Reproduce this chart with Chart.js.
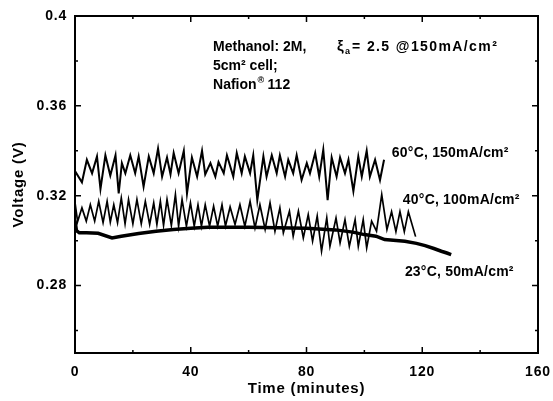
<!DOCTYPE html>
<html lang="en">
<head>
<meta charset="UTF-8">
<title>Cell voltage vs time</title>
<script src="https://cdn.jsdelivr.net/npm/chart.js"></script>
<style>
  html, body { margin: 0; padding: 0; background: #fff; }
  #wrap { width: 553px; height: 401px; }
</style>
</head>
<body>
<div id="wrap"><canvas id="voltChart" width="553" height="401"></canvas></div>
<script>
// values (time in minutes, voltage in V)
const t60 = [0, 2.4, 4.1, 5.9, 7.6, 8.8, 10.5, 12.2, 14.0, 15.1,
             16.2, 17.4, 19.1, 20.8, 22.0, 23.7, 25.5, 27.2, 28.7, 30.1,
             31.8, 33.0, 34.1, 35.8, 37.6, 38.7, 40.4, 42.2, 43.9, 45.0,
             46.8, 48.5, 49.6, 51.4, 52.5, 54.7, 55.9, 57.6, 58.7, 60.5,
             61.6, 63.0, 65.1, 66.2, 68.0, 69.7, 70.8, 72.6, 73.7, 75.4,
             76.6, 78.3, 80.1, 81.2, 83.0, 84.4, 85.8, 87.3, 88.7, 90.4,
             91.6, 93.3, 94.5, 96.2, 97.9, 99.1, 100.8, 101.9, 103.7, 105.4,
             106.8];
const v60 = [0.331, 0.326, 0.336, 0.330, 0.3375, 0.323, 0.338, 0.329, 0.338, 0.321,
             0.3345, 0.330, 0.338, 0.330, 0.3375, 0.324, 0.3375, 0.330, 0.341, 0.3285,
             0.337, 0.3295, 0.339, 0.330, 0.340, 0.321, 0.337, 0.3285, 0.340, 0.3295,
             0.3345, 0.3285, 0.335, 0.330, 0.338, 0.3285, 0.339, 0.330, 0.3375, 0.330,
             0.338, 0.318, 0.3375, 0.3285, 0.338, 0.330, 0.338, 0.3285, 0.336, 0.330,
             0.338, 0.327, 0.3345, 0.330, 0.339, 0.3285, 0.3405, 0.318, 0.337, 0.3285,
             0.337, 0.330, 0.336, 0.322, 0.3375, 0.3285, 0.340, 0.3285, 0.336, 0.327,
             0.336];

const t40 = [0, 0.9, 2.4, 3.9, 5.3, 6.8, 8.2, 9.7, 11.1, 12.2,
             13.4, 14.7, 16.0, 17.3, 18.5, 20.0, 21.4, 22.9, 24.3, 25.8,
             27.2, 28.3, 29.5, 30.6, 31.8, 33.3, 34.7, 35.8, 37.0, 38.5,
             39.9, 41.2, 42.5, 43.7, 45.0, 46.5, 47.9, 49.3, 50.8, 52.0,
             53.6, 55.3, 57.0, 58.7, 60.5, 62.2, 63.9, 65.7, 67.4, 69.1,
             70.8, 72.0, 74.1, 75.4, 77.2, 78.9, 80.6, 82.1, 83.7, 85.2,
             87.0, 88.1, 90.2, 91.6, 93.3, 94.8, 96.8, 97.9, 99.6, 100.8,
             102.5, 104.2, 106.0, 107.8, 109.4, 110.9, 112.3, 113.8, 115.2, 117.7];
const v40 = [0.317, 0.3085, 0.3146, 0.3087, 0.316, 0.3087, 0.3175, 0.308, 0.3175, 0.3083,
             0.316, 0.308, 0.319, 0.3075, 0.3183, 0.3075, 0.3183, 0.3075, 0.3175, 0.3072,
             0.3168, 0.3072, 0.3175, 0.3068, 0.3183, 0.3068, 0.3205, 0.3065, 0.3183, 0.3065,
             0.3168, 0.3065, 0.316, 0.3065, 0.316, 0.3065, 0.3153, 0.3065, 0.316, 0.3065,
             0.315, 0.3072, 0.316, 0.3064, 0.3175, 0.3057, 0.316, 0.305, 0.3168, 0.3042,
             0.3146, 0.3035, 0.3131, 0.302, 0.3131, 0.3012, 0.3116, 0.2998, 0.3109, 0.2953,
             0.3101, 0.2975, 0.3101, 0.299, 0.3094, 0.2975, 0.3094, 0.2975, 0.3094, 0.2968,
             0.3087, 0.3042, 0.3205, 0.305, 0.3129, 0.304, 0.3129, 0.304, 0.3129, 0.3018];

const t23 = [0, 0.5, 1.5, 4, 8, 12.8, 16, 22, 28, 34, 40, 46, 52, 60, 70,
             80, 90, 96, 100, 104, 107, 110, 114, 118, 121, 124, 126.6, 128.5, 130];
const v23 = [0.309, 0.3045, 0.3035, 0.3035, 0.3033, 0.3012, 0.302, 0.3032, 0.3042, 0.305,
             0.3055, 0.306, 0.306, 0.306, 0.3058, 0.3055, 0.3048, 0.3038, 0.3027, 0.302,
             0.3005, 0.3002, 0.2997, 0.2988, 0.2978, 0.2965, 0.2953, 0.2945, 0.2938];

const seriesNames = ['60°C, 150mA/cm²', '40°C, 100mA/cm²', '23°C, 50mA/cm²'];

const xTicks = [0, 20, 40, 60, 80, 100, 120, 140, 160];
const xLabels = [0, 40, 80, 120, 160];
const yTicks = [0.26, 0.28, 0.30, 0.32, 0.34, 0.36, 0.38, 0.40];
const yLabels = [0.28, 0.32, 0.36, 0.40];

const isLabel = (list, v) => list.some(l => Math.abs(l - v) < 1e-9);
const toPts = (t, v) => t.map((x, i) => ({ x: x, y: v[i] }));

const FAMILY = '"Liberation Sans", Arial, sans-serif';
Chart.defaults.font.family = FAMILY;
Chart.defaults.font.weight = 'bold';
Chart.defaults.color = '#000';

// draws the box, the inward ticks and the texts inside the plot
const framePlugin = {
  id: 'frame',
  beforeDraw(chart) {
    chart.ctx.letterSpacing = '0.8px';
  },
  afterDraw(chart) {
    const ctx = chart.ctx;
    const { left, right, top, bottom } = chart.chartArea;
    const xs = chart.scales.x, ys = chart.scales.y;
    ctx.save();
    ctx.strokeStyle = '#000';
    ctx.lineWidth = 2;
    ctx.strokeRect(left, top, right - left, bottom - top);
    ctx.lineWidth = 1.5;
    ctx.beginPath();
    xTicks.forEach(v => {
      const px = xs.getPixelForValue(v);
      const len = isLabel(xLabels, v) ? 6 : 3;
      ctx.moveTo(px, bottom); ctx.lineTo(px, bottom - len);
      ctx.moveTo(px, top); ctx.lineTo(px, top + len);
    });
    yTicks.forEach(v => {
      const py = ys.getPixelForValue(v);
      const len = isLabel(yLabels, v) ? 6 : 3;
      ctx.moveTo(left, py); ctx.lineTo(left + len, py);
      ctx.moveTo(right, py); ctx.lineTo(right - len, py);
    });
    ctx.stroke();

    ctx.fillStyle = '#000';
    ctx.textBaseline = 'alphabetic';
    // note block
    const big = 'bold 14px ' + FAMILY, small = 'bold 9px ' + FAMILY;
    const bx = xs.getPixelForValue(47.7);
    ctx.font = big;
    ctx.letterSpacing = '0px';
    ctx.fillText('Methanol: 2M,', bx, 51);
    ctx.font = 'bold 15px ' + FAMILY;
    ctx.fillText('ξ', bx + 124, 51);
    ctx.font = small;
    ctx.fillText('a', bx + 132, 54);
    ctx.font = big;
    ctx.letterSpacing = '1.4px';
    ctx.fillText('= 2.5 @150mA/cm²', bx + 139, 51);
    ctx.letterSpacing = '0px';
    ctx.fillText('5cm² cell;', bx, 70);
    ctx.fillText('Nafion', bx, 89);
    const w = ctx.measureText('Nafion').width;
    ctx.font = small;
    ctx.fillText('®', bx + w + 1, 83);
    ctx.font = big;
    ctx.fillText('112', bx + w + 11, 89);

    // series labels
    ctx.font = 'bold 14px ' + FAMILY;
    ctx.letterSpacing = '0.2px';
    ctx.textBaseline = 'middle';
    ctx.fillText(seriesNames[0], xs.getPixelForValue(109.5), ys.getPixelForValue(0.3391));
    ctx.fillText(seriesNames[1], xs.getPixelForValue(113.3), ys.getPixelForValue(0.3182));
    ctx.fillText(seriesNames[2], xs.getPixelForValue(114), ys.getPixelForValue(0.2858));
    ctx.restore();
  }
};

const lineSet = (name, t, v, width) => ({
  label: name,
  data: toPts(t, v),
  showLine: true,
  borderColor: '#000',
  borderWidth: width,
  pointRadius: 0,
  tension: 0
});

new Chart(document.getElementById('voltChart'), {
  type: 'scatter',
  data: {
    datasets: [
      lineSet(seriesNames[0], t60, v60, 2),
      lineSet(seriesNames[1], t40, v40, 1.7),
      lineSet(seriesNames[2], t23, v23, 3.5)
    ]
  },
  options: {
    responsive: false,
    animation: false,
    layout: { padding: { top: 16, right: 15, left: 0, bottom: 0 } },
    plugins: { legend: { display: false }, tooltip: { enabled: false } },
    scales: {
      x: {
        type: 'linear',
        min: 0,
        max: 160,
        afterBuildTicks: s => { s.ticks = xTicks.map(v => ({ value: v })); },
        afterFit: s => { s.height = 48; s.paddingLeft = 0; s.paddingRight = 0; },
        ticks: {
          autoSkip: false,
          maxRotation: 0,
          padding: 11,
          font: { size: 14 },
          callback: v => isLabel(xLabels, v) ? String(v) : ''
        },
        grid: { drawOnChartArea: false, drawTicks: false },
        border: { display: false },
        title: { display: true, text: 'Time (minutes)', font: { size: 15 }, padding: { top: 0, bottom: 3 } }
      },
      y: {
        min: 0.25,
        max: 0.4,
        afterBuildTicks: s => { s.ticks = yTicks.map(v => ({ value: v })); },
        afterFit: s => { s.width = 75; s.paddingTop = 0; s.paddingBottom = 0; },
        ticks: {
          autoSkip: false,
          padding: 8,
          font: { size: 14 },
          callback: v => isLabel(yLabels, v) ? String(+v.toFixed(2)) : ''
        },
        grid: { drawOnChartArea: false, drawTicks: false },
        border: { display: false },
        title: { display: true, text: 'Voltage (V)', font: { size: 15 }, padding: { top: 10, bottom: 0 } }
      }
    }
  },
  plugins: [framePlugin]
});
</script>
</body>
</html>
